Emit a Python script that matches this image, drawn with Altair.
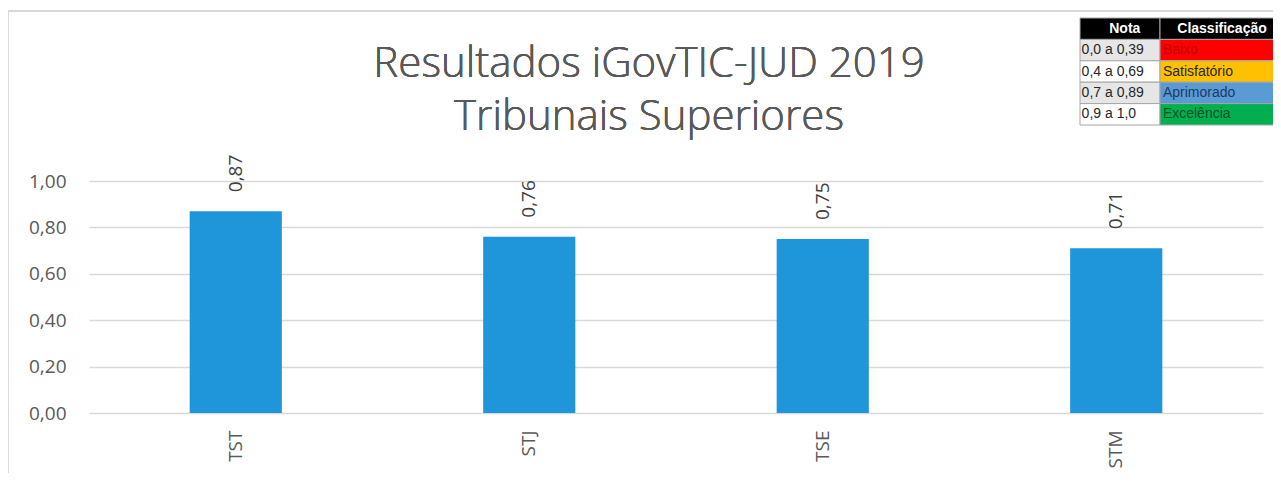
import altair as alt
import pandas as pd

# ---- data ----
tribunais = ["TST", "STJ", "TSE", "STM"]
notas = [0.87, 0.76, 0.75, 0.71]

title_lines = ["Resultados iGovTIC-JUD 2019", "Tribunais Superiores"]

tab_header = ["Nota", "Classificação"]
tab_faixas = ["0,0 a 0,39", "0,4 a 0,69", "0,7 a 0,89", "0,9 a 1,0"]
tab_classes = ["Baixo", "Satisfatório", "Aprimorado", "Excelência"]
tab_class_fill = ["#FF0000", "#FFC000", "#5B9BD5", "#00B050"]
tab_class_text = ["#C00000", "#262626", "#1F3864", "#0B4F1F"]
tab_nota_fill = ["#E6E6E6", "#FFFFFF", "#E6E6E6", "#FFFFFF"]

# ---- layout constants (not data) ----
W, H = 1174, 232
PAD_L, PAD_T = 81, 173
FONT = "Open Sans"
GREY = "#595959"

df = pd.DataFrame({"tribunal": tribunais, "nota": notas})

xb = alt.X("tribunal:N", sort=tribunais,
           scale=alt.Scale(paddingInner=0.686, paddingOuter=0.343),
           axis=alt.Axis(title=None, labelAngle=270, labelAlign="right",
                         labelBaseline="middle", labelPadding=17, ticks=False,
                         domain=False, labelFont=FONT, labelFontSize=19,
                         labelColor=GREY))
yb = alt.Y("nota:Q", scale=alt.Scale(domain=[0, 1], nice=False),
           axis=alt.Axis(title=None, values=[0, 0.2, 0.4, 0.6, 0.8, 1.0],
                         labelExpr="replace(format(datum.value, '.2f'), '.', ',')",
                         ticks=False, domain=False, labelPadding=23,
                         labelFont=FONT, labelFontSize=19, labelColor=GREY,
                         grid=True, gridColor="#D9D9D9", gridWidth=1.5))

bars = alt.Chart(df).mark_bar(color="#1F96D9").encode(x=xb, y=yb)
vals = alt.Chart(df).mark_text(angle=270, align="left", baseline="middle", dx=19,
                               font=FONT, fontSize=19, color="#404040").encode(
    x=xb, y=yb, text="lbl:N").transform_calculate(
    lbl="replace(format(datum.nota, '.2f'), '.', ',')")
base = alt.layer(bars, vals)

# title
t1 = alt.Chart(df).mark_text(font=FONT, fontSize=42, fontWeight=300, color=GREY,
                             align="center", baseline="alphabetic").encode(
    x=alt.value(560), y=alt.value(-104), text=alt.value(title_lines[0]))
t2 = alt.Chart(df).mark_text(font=FONT, fontSize=42, fontWeight=300, color=GREY,
                             align="center", baseline="alphabetic").encode(
    x=alt.value(560), y=alt.value(-51), text=alt.value(title_lines[1]))

# outer frame
frame_top = alt.Chart(df).mark_rule(color="#D9D9D9", strokeWidth=2).encode(
    x=alt.value(-81), x2=alt.value(1200), y=alt.value(-170))
frame_left = alt.Chart(df).mark_rule(color="#D9D9D9", strokeWidth=2).encode(
    x=alt.value(-81), y=alt.value(-170), y2=alt.value(H + 60))

# legend table
rows = []
rows.append({"c": 0, "c2": 1, "r": 0, "r2": 1, "fill": "#000000", "txt": tab_header[0],
             "tc": "#FFFFFF", "al": "c"})
rows.append({"c": 1, "c2": 2, "r": 0, "r2": 1, "fill": "#000000", "txt": tab_header[1],
             "tc": "#FFFFFF", "al": "h"})
for i in range(4):
    rows.append({"c": 0, "c2": 1, "r": i + 1, "r2": i + 2, "fill": tab_nota_fill[i],
                 "txt": tab_faixas[i], "tc": "#262626", "al": "l"})
    rows.append({"c": 1, "c2": 2, "r": i + 1, "r2": i + 2, "fill": tab_class_fill[i],
                 "txt": tab_classes[i], "tc": tab_class_text[i], "al": "l"})
tdf = pd.DataFrame(rows)

xs = alt.Scale(domain=[0, 1, 2], range=[991, 1071, 1215])
ys = alt.Scale(domain=[0, 5], range=[-163, -56])
cells = alt.Chart(tdf).mark_rect(stroke="#A6A6A6", strokeWidth=1).encode(
    x=alt.X("c:Q", scale=xs, axis=None), x2="c2:Q",
    y=alt.Y("r:Q", scale=ys, axis=None), y2="r2:Q",
    fill=alt.Fill("fill:N", scale=None))

tcommon = dict(font="Liberation Sans", fontSize=14, baseline="middle")
ymid = alt.Y("ym:Q", scale=ys, axis=None)
txt_left = alt.Chart(tdf).transform_filter("datum.al == 'l'").transform_calculate(
    ym="datum.r + 0.5", xl="datum.c + 0.02").mark_text(align="left", **tcommon).encode(
    x=alt.X("xl:Q", scale=xs, axis=None), y=ymid, text="txt:N",
    color=alt.Color("tc:N", scale=None))
txt_head1 = alt.Chart(tdf).transform_filter("datum.al == 'c'").transform_calculate(
    ym="datum.r + 0.5", xl="datum.c + 0.56").mark_text(align="center", fontWeight="bold",
                                                       **tcommon).encode(
    x=alt.X("xl:Q", scale=xs, axis=None), y=ymid, text="txt:N",
    color=alt.Color("tc:N", scale=None))
txt_head2 = alt.Chart(tdf).transform_filter("datum.al == 'h'").transform_calculate(
    ym="datum.r + 0.5", xl="datum.c + 0.12").mark_text(align="left", fontWeight="bold",
                                                       **tcommon).encode(
    x=alt.X("xl:Q", scale=xs, axis=None), y=ymid, text="txt:N",
    color=alt.Color("tc:N", scale=None))
table = alt.layer(cells, txt_left, txt_head1, txt_head2)

chart = alt.layer(base, table, t1, t2, frame_top, frame_left).resolve_scale(
    x="independent", y="independent").properties(
    width=W, height=H, autosize=alt.AutoSizeParams(type="none"),
    padding={"left": PAD_L, "top": PAD_T, "right": 10, "bottom": 61},
    background="white").configure_view(stroke=None)

chart.save("out.html", embed_options={"renderer": "svg", "actions": False})
